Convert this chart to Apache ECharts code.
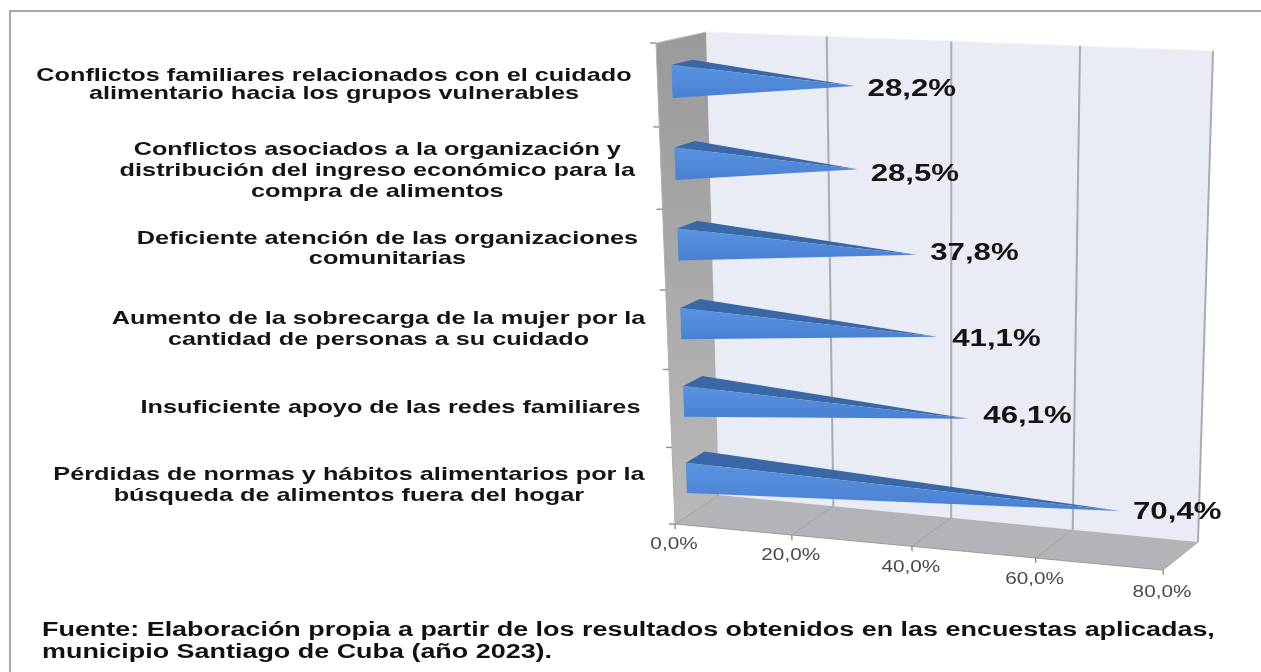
<!DOCTYPE html>
<html><head><meta charset="utf-8">
<style>html,body{margin:0;padding:0;background:#fff}#c{width:1261px;height:672px}</style>
<script src="https://cdn.jsdelivr.net/npm/echarts@6/dist/echarts.min.js"></script>
</head><body><div id="c"></div>
<script>
const categories = [
  "Conflictos familiares relacionados con el cuidado\nalimentario hacia los grupos vulnerables",
  "Conflictos asociados a la organización y\ndistribución del ingreso económico para la\ncompra de alimentos",
  "Deficiente atención de las organizaciones\ncomunitarias",
  "Aumento de la sobrecarga de la mujer por la\ncantidad de personas a su cuidado",
  "Insuficiente apoyo de las redes familiares",
  "Pérdidas de normas y hábitos alimentarios por la\nbúsqueda de alimentos fuera del hogar"
];
const values = [28.2, 28.5, 37.8, 41.1, 46.1, 70.4];
const valueLabels = ["28,2%", "28,5%", "37,8%", "41,1%", "46,1%", "70,4%"];
const xTicks = [0, 20, 40, 60, 80];
const xTickLabels = ["0,0%", "20,0%", "40,0%", "60,0%", "80,0%"];
const footerLines = [
  "Fuente: Elaboración propia a partir de los resultados obtenidos en las encuestas aplicadas,",
  "municipio Santiago de Cuba (año 2023)."
];

const FONT = '"Liberation Sans", Arial, sans-serif';
// Perspective box: corner positions of the front and back planes
const frontQuad = [[656,43],[1172,61],[1163,570],[675,524]];
const backQuad  = [[706,32],[1213,51],[1198,542],[719,495]];
// Hand-placement nudges of the text, as in the source image
const catNudge = {dx:[0,0,0,4,-4,-3], dy:[1,4,0,0,0,0], lineHeight:[18,21,20,21,20,21]};
const valueNudge = {dx:[0,0,1,2,2,0], dy:[0,2,-4,0,-5,-2]};

function homography(q){
  const [[x0,y0],[x1,y1],[x2,y2],[x3,y3]] = q;
  const dx1=x1-x2, dx2=x3-x2, sx=x0-x1+x2-x3, dy1=y1-y2, dy2=y3-y2, sy=y0-y1+y2-y3;
  const den=dx1*dy2-dx2*dy1;
  const g=(sx*dy2-dx2*sy)/den, h=(dx1*sy-sx*dy1)/den;
  const a=x1-x0+g*x1, b=x3-x0+h*x3, d=y1-y0+g*y1, e=y3-y0+h*y3;
  return (u,v)=>{const w=g*u+h*v+1;return [(a*u+b*v+x0)/w,(d*u+e*v+y0)/w];};
}
const hFront = homography(frontQuad), hBack = homography(backQuad);
function project(u,v,depth){
  const f=hFront(u,v), b=hBack(u,v);
  return [f[0]+(b[0]-f[0])*depth, f[1]+(b[1]-f[1])*depth];
}
function norm(api,params,val,cat){
  const p=api.coord([val,cat]), r=params.coordSys;
  return [(p[0]-r.x)/r.width,(p[1]-r.y)/r.height];
}
const poly=(points,fill,extra)=>Object.assign({type:'polygon',shape:{points},style:{fill,stroke:null}},extra||{});
const seg=(a,b,stroke,lineWidth)=>({type:'line',shape:{x1:a[0],y1:a[1],x2:b[0],y2:b[1]},style:{stroke,lineWidth}});
const vgrad=(a,b)=>({type:'linear',x:0,y:0,x2:0,y2:1,colorStops:[{offset:0,color:a},{offset:1,color:b}]});

function renderBox(params,api){
  const P=(u,v,d)=>project(u,v,d);
  return {type:'group',children:[
    poly([P(0,0,1),P(1,0,1),P(1,1,1),P(0,1,1)],'#e9ecf5'),
    poly([P(0,0,0),P(0,0,1),P(0,1,1),P(0,1,0)],vgrad('#9a9a9b','#b9b9ba')),
    poly([P(0,1,0),P(0,1,1),P(1,1,1),P(1,1,0)],'#b3b4b7'),
    seg(P(0,0,0),P(0,0,1),'#c4c4c4',1),
    seg(P(0,0,1),P(1,0,1),'#f2f3f8',1),
    seg(P(0,1,0),P(1,1,0),'#9b9b9b',1.2),
    seg(P(0,0,0),P(0,1,0),'#b0b0b0',1)
  ]};
}
function renderTick(params,api){
  const n=norm(api,params,api.value(0),0), u=n[0];
  const top=project(u,0,1), bot=project(u,1,1), fr=project(u,1,0);
  const i=params.dataIndex;
  return {type:'group',children:[
    seg(top,bot,i===0?'rgba(0,0,0,0)':'#a9abb0',2),
    seg(bot,fr,'#a0a1a3',1),
    seg(fr,[fr[0]+0.3,fr[1]+5],'#8e8e8e',1.4),
    {type:'text',x:fr[0]-1,y:fr[1]+20+i*0.5,scaleX:1.22,style:{text:xTickLabels[i],font:'17px '+FONT,fill:'#4a4a4a',textAlign:'center',textVerticalAlign:'middle'}}
  ]};
}
function renderCatTick(params,api){
  const i=api.value(1);
  const h=api.size([0,1])[1]/params.coordSys.height;
  const v=norm(api,params,0,i)[1]-h/2;
  const p=project(0,v,0);
  return {type:'group',children:[seg([p[0]-6,p[1]],p,'#8e8e8e',1.4)]};
}
function renderBar(params,api){
  const i=api.value(1), val=api.value(0);
  const n=norm(api,params,val,i), n0=norm(api,params,0,i);
  const band=api.size([0,1])[1]/params.coordSys.height;
  const d0=0.29,d1=0.71,half=band*0.2;
  const a=project(0,n0[1]-half,d0), b=project(0,n0[1]+half,d0), c=project(0,n0[1]-half,d1);
  const tip=project(n[0],n[1],0.5);
  const k=params.dataIndex;
  return {type:'group',children:[
    poly([a,c,tip],'#3a67a6'),
    poly([a,b,tip],vgrad('#5a93e2','#4a80d2')),
    {type:'text',x:tip[0]+13+valueNudge.dx[k],y:tip[1]+3+valueNudge.dy[k],scaleX:1.3,style:{text:valueLabels[k],font:'bold 24px '+FONT,fill:'#141414',textAlign:'left',textVerticalAlign:'middle'}}
  ]};
}
function renderCat(params,api){
  const i=api.value(1);
  const n=norm(api,params,0,i);
  const p=project(0,n[1],0);
  const sx=1.33, font='bold 19px '+FONT;
  const meas=renderCat.ctx||(renderCat.ctx=document.createElement('canvas').getContext('2d'));
  meas.font=font;
  const w=Math.max(...categories[i].split('\n').map(s=>meas.measureText(s).width))*sx;
  const right=p[0]-26+catNudge.dx[i];
  return {type:'text',x:right-w/2,y:p[1]-1+catNudge.dy[i],scaleX:sx,style:{text:categories[i],font,lineHeight:catNudge.lineHeight[i],fill:'#141414',textAlign:'center',textVerticalAlign:'middle'}};
}
const chart=echarts.init(document.getElementById('c'),null,{renderer:'canvas'});
const flatGrid={left:200,top:100,width:800,height:400,show:false};
chart.setOption({
  animation:false,
  backgroundColor:'#fff',
  grid:flatGrid,
  xAxis:{type:'value',min:0,max:80,interval:20,show:false},
  yAxis:{type:'category',data:categories,inverse:true,show:false},
  graphic:[
    {type:'rect',shape:{x:10,y:11,width:1300,height:700},style:{fill:'none',stroke:'#a8a8a8',lineWidth:2},silent:true,z:-1},
    ...footerLines.map((t,i)=>({type:'text',x:42,y:630+i*22,scaleX:1.346,style:{text:t,font:'bold 20px '+FONT,fill:'#111',textAlign:'left',textVerticalAlign:'middle'},z:10}))
  ],
  series:[
    {type:'custom',renderItem:renderBox,data:[[0,0]],encode:{x:0,y:1},silent:true,clip:false,z:1},
    {type:'custom',renderItem:renderTick,data:xTicks.map(t=>[t,0]),encode:{x:0,y:1},silent:true,z:2},
    {type:'custom',renderItem:renderCatTick,data:categories.map((c,i)=>[0,i]).concat([[0,categories.length]]),encode:{x:0,y:1},silent:true,z:2},
    {type:'custom',renderItem:renderBar,data:values.map((v,i)=>[v,i]),encode:{x:0,y:1},silent:true,z:3},
    {type:'custom',renderItem:renderCat,data:categories.map((c,i)=>[0,i]),encode:{x:0,y:1},silent:true,z:4}
  ]
});
</script></body></html>
